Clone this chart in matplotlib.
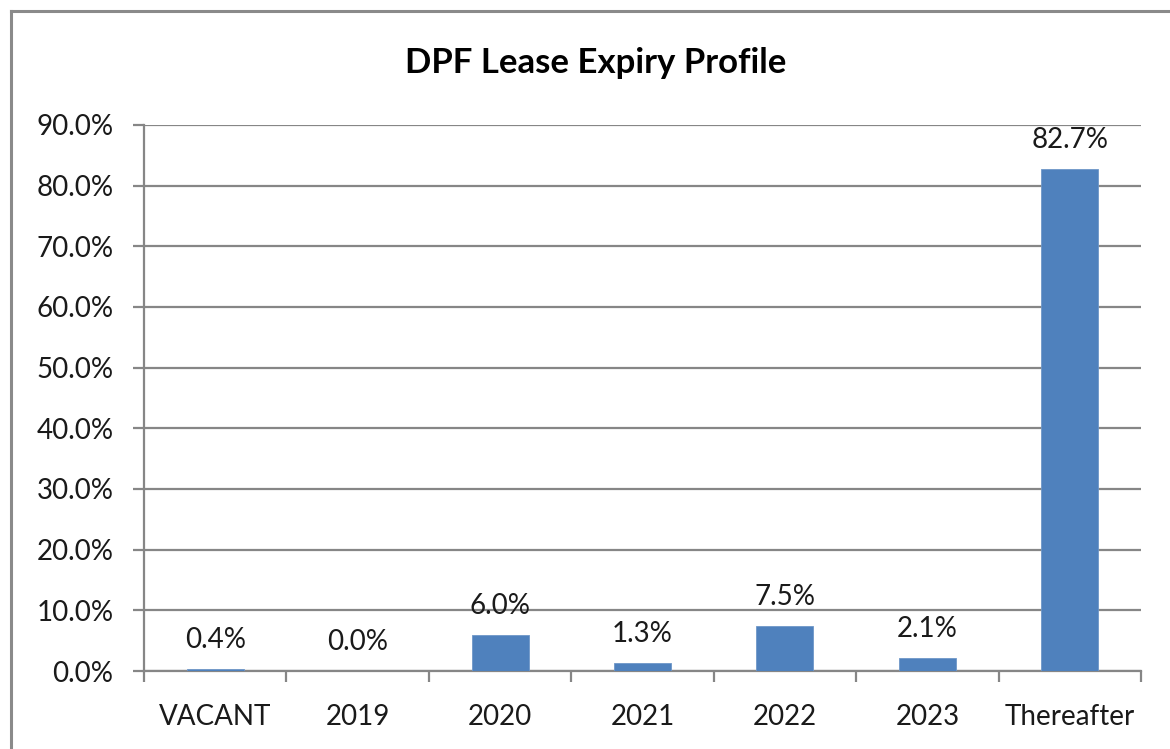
import matplotlib
matplotlib.use("Agg")
import matplotlib.pyplot as plt
from matplotlib.lines import Line2D
from matplotlib.ticker import FixedLocator, FuncFormatter
import numpy as np

categories = ["VACANT", "2019", "2020", "2021", "2022", "2023", "Thereafter"]
values = [0.4, 0.0, 6.0, 1.3, 7.5, 2.1, 82.7]
title = "DPF Lease Expiry Profile"
y_ticks = [0, 10, 20, 30, 40, 50, 60, 70, 80, 90]

plt.rcParams['font.family'] = ['Lato', 'DejaVu Sans']

fig = plt.figure(figsize=(11.70, 7.49), dpi=100)
ax = fig.add_axes([144/1170, 1-671/749, (1141-144)/1170, (671-125)/749])

x = np.arange(len(categories))
bar_color = "#4F81BD"
grid_color = "#868686"
ax.bar(x, values, width=0.40, color=bar_color, edgecolor="#6E97C8", linewidth=0.6, zorder=3)

for xi, v in zip(x, values):
    ax.annotate(f"{v:.1f}%", xy=(xi, v), xytext=(0, 15), textcoords="offset points",
                ha="center", va="baseline", fontsize=20, color="#1a1a1a", zorder=4)

ax.set_xlim(-0.5, len(categories) - 0.5)
ax.set_ylim(0, 90)
ax.yaxis.set_major_locator(FixedLocator(y_ticks))
ax.yaxis.set_major_formatter(FuncFormatter(lambda v, p: f"{v:.1f}%"))
ax.grid(axis="y", color=grid_color, linewidth=1.6, zorder=0)
ax.set_axisbelow(True)

ax.set_xticks(x)
ax.set_xticklabels(categories)
ax.set_xticks(np.arange(len(categories) + 1) - 0.5, minor=True)
ax.tick_params(axis="x", which="major", length=0, pad=24, labelsize=20, labelcolor="#1a1a1a")
ax.tick_params(axis="x", which="minor", length=8, width=1.6, color=grid_color, direction="out")
ax.tick_params(axis="y", which="major", length=8, width=1.6, color=grid_color, pad=14,
               labelsize=20, labelcolor="#1a1a1a")

for s in ["top", "right"]:
    ax.spines[s].set_visible(False)
for s in ["left", "bottom"]:
    ax.spines[s].set_color(grid_color)
    ax.spines[s].set_linewidth(1.6)

fig.text(596/1170, 1-63/749, title, ha="center", va="center", fontsize=25,
         fontweight="bold", color="#000000")

# outer border (top and left visible)
fig.add_artist(Line2D([11/1170, 1.0], [1-11/749, 1-11/749], transform=fig.transFigure,
                      color="#8a8a8a", linewidth=2.2))
fig.add_artist(Line2D([11/1170, 11/1170], [1-11/749, 0.0], transform=fig.transFigure,
                      color="#8a8a8a", linewidth=2.2))

fig.savefig("out.png", dpi=100, facecolor="white")
